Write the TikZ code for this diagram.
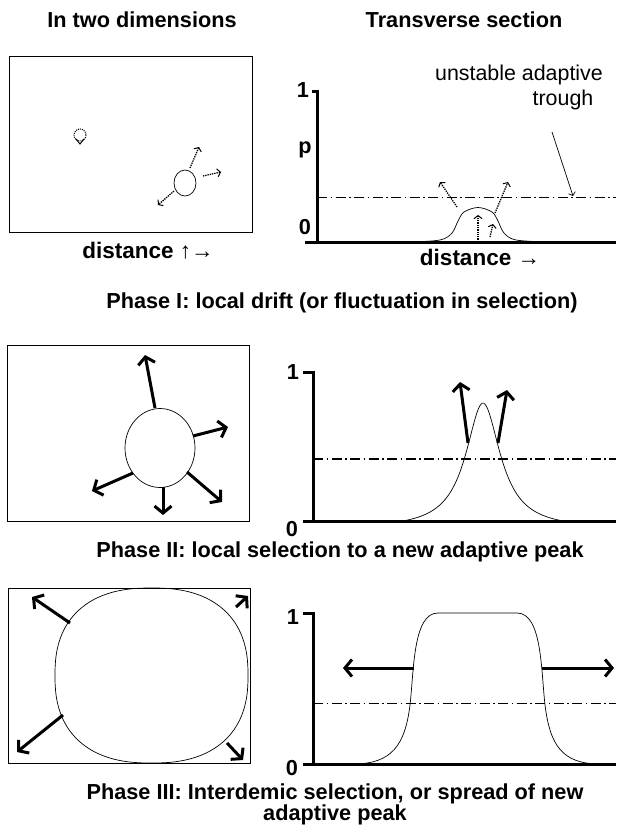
\documentclass[tikz,border=0pt]{standalone}
\usepackage{fontspec}
\setmainfont{Liberation Sans}
\usetikzlibrary{arrows.meta}
\begin{document}
\begin{tikzpicture}[x=1pt,y=-1pt,
  lbl/.style={font=\fontsize{21.7}{25}\selectfont\bfseries, inner sep=0pt},
  reg/.style={font=\fontsize{21.4}{25}\selectfont, inner sep=0pt},
  axisline/.style={line width=3pt},
  frame/.style={line width=0.8pt},
  thinc/.style={line width=0.7pt},
  dashdot/.style={dash pattern=on 10pt off 3.5pt on 1.5pt off 3.5pt},
  bigarrow/.style={line width=3pt, -{Straight Barb[length=7pt,width=17pt]}},
  dotarrow/.style={line width=1.3pt, densely dotted, -{Straight Barb[length=3pt,width=8pt,line width=1pt]}},
]
\useasboundingbox (0,0) rectangle (616,834);

% titles
\node[lbl] (t1) at (142,20) {In two dimensions};
\node[lbl] (t2) at (464,20) {Transverse section};

% ===== Phase I =====
\draw[frame] (9,56) rectangle (252,232);
\draw[densely dotted, line width=1pt] (80,135) circle (6);
\draw[line width=1pt] (76,139) -- (80,144) -- (84,139);
\draw[thinc] (185,183) ellipse (11 and 13);
\coordinate (e1a) at (190,168); \coordinate (e1b) at (199,147);
\coordinate (e1c) at (203,176); \coordinate (e1d) at (221,172);
\coordinate (e1e) at (174,191); \coordinate (e1f) at (158,205);
\draw[dotarrow] (e1a) -- (e1b);
\draw[dotarrow] (e1c) -- (e1d);
\draw[dotarrow] (e1e) -- (e1f);
\node[lbl, font=\fontsize{22.5}{25}\selectfont\bfseries] (d1) at (148,251) {distance {\mdseries ↑→}};

\draw[axisline] (312,92) -- (317,92) -- (317,242);
\draw[axisline] (305,242) -- (616,242);
\node[lbl] (one1) at (303,90) {1};
\node[lbl] (p1) at (305,150) {p};
\node[lbl] (zero1) at (305,227) {0};
\draw[thinc, dashdot] (317,197) -- (616,197);
\draw[thinc] plot[smooth, tension=0.55] coordinates {(410,242) (440,240) (452,233) (458,221) (464,212) (478,207.5) (492,212) (498,221) (504,233) (516,240) (548,242)};
\draw[dotarrow] (457,207) -- (440,182);
\draw[dotarrow] (495,213) -- (508,182);
\draw[dotarrow] (478,242) -- (478,215);
\draw[dotarrow] (490,237) -- (493,224);
\node[reg] (u1) at (519,75) {unstable adaptive};
\node[reg] (u2) at (563,100) {trough};
\coordinate (ua) at (552,132); \coordinate (ub) at (573,196);
\draw[thinc, -{Straight Barb[length=3pt,width=7pt]}] (ua) -- (ub);
\node[lbl, font=\fontsize{22.5}{25}\selectfont\bfseries] (d2) at (480,257) {distance {\mdseries →}};

\node[lbl] (ph1) at (342,303) {Phase I: local drift (or fluctuation in selection)};

% ===== Phase II =====
\draw[frame] (7,345) rectangle (249,521);
\draw[thinc] (160,448) ellipse (35 and 39.5);
\draw[bigarrow] (155,408) -- (145,355);
\draw[bigarrow] (193,436) -- (228,427);
\draw[bigarrow] (187,472) -- (222,502);
\draw[bigarrow] (163,487) -- (163,515);
\draw[bigarrow] (133,473) -- (92,491);

\draw[axisline] (303,372) -- (313,372) -- (313,521);
\draw[axisline] (303,521) -- (616,521);
\node[lbl] (one2) at (293,372) {1};
\node[lbl] (zero2) at (292,529) {0};
\draw[line width=1.4pt, dashdot] (313,459) -- (616,459);
\draw[thinc] plot[domain=402:564, samples=120] (\x, {521 - 118*(1/(1+((\x-483)/21)^2) - 0.0645)/0.9355});
\draw[bigarrow] (468,443) -- (460,382);
\draw[bigarrow] (498,443) -- (507,390);

\node[lbl] (ph2) at (340,552) {Phase II: local selection to a new adaptive peak};

% ===== Phase III =====
\draw[frame] (8,588) rectangle (250,763);
\draw[thinc] plot[domain=0.5:360.5, samples=181] ({151.5+96.5*sign(cos(\x))*abs(cos(\x))^(0.83)}, {675.5+87.5*sign(sin(\x))*abs(sin(\x))^(0.83)}) -- cycle;
\draw[bigarrow] (70,623) -- (32,597);
\draw[bigarrow] (236,607) -- (248,596);
\draw[bigarrow] (63,715) -- (17,752);
\draw[bigarrow] (227,743) -- (243,760);

\draw[axisline] (303,613) -- (313,613) -- (313,764);
\draw[axisline] (303,764) -- (616,764);
\node[lbl] (one3) at (293,617) {1};
\node[lbl] (zero3) at (292,768) {0};
\draw[thinc, dashdot] (313,703) -- (616,703);
\draw[thinc] (353,764) .. controls (392,764) and (405,745) .. (410,705)
  .. controls (414,670) and (413,613) .. (438,613) -- (517,613)
  .. controls (542,613) and (541,670) .. (545,705)
  .. controls (550,745) and (562,764) .. (600,764);
\draw[bigarrow] (414,668) -- (343,668);
\draw[bigarrow] (542,668) -- (614,668);

\node[lbl, align=center, font=\fontsize{21.7}{21}\selectfont\bfseries] (ph3) at (335,804) {Phase III: Interdemic selection, or spread of new\\adaptive peak};
\end{tikzpicture}
\end{document}
